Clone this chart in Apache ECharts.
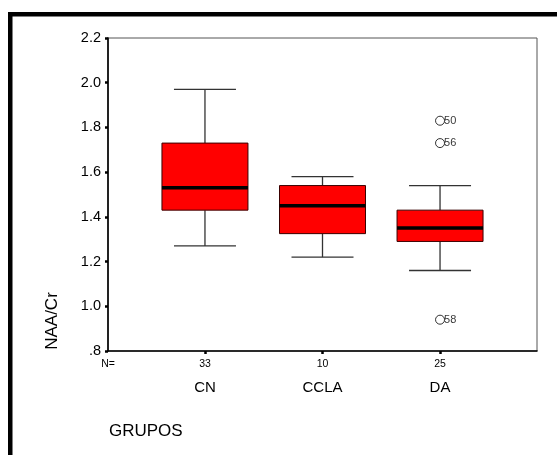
<!DOCTYPE html>
<html>
<head>
<meta charset="utf-8">
<script src="https://cdn.jsdelivr.net/npm/echarts@6/dist/echarts.min.js"></script>
<style>
  html, body { margin: 0; padding: 0; background: #fff; }
  #chart { width: 557px; height: 455px; }
</style>
</head>
<body>
<div id="chart"></div>
<script>
// NAA/Cr ratio by group: box summaries
const groups = ['CN', 'CCLA', 'DA'];
const groupN = [33, 10, 25];
const whiskerLow = [1.27, 1.22, 1.16];
const quartile1 = [1.43, 1.325, 1.29];
const medians = [1.53, 1.45, 1.35];
const quartile3 = [1.73, 1.54, 1.43];
const whiskerHigh = [1.97, 1.58, 1.54];

// Outlying cases (group index, value, case number)
const outlierGroup = [2, 2, 2];
const outlierValue = [1.83, 1.73, 0.94];
const outlierCase = ['50', '56', '58'];

const yTicks = { min: 0.8, max: 2.2, step: 0.2 };

const FONT = '"Liberation Sans", Arial, sans-serif';

const boxData = groups.map((g, k) => [k + 1, whiskerLow[k], quartile1[k], medians[k], quartile3[k], whiskerHigh[k]]);
const outlierData = outlierGroup.map((g, k) => ({ value: [g + 1, outlierValue[k]], name: outlierCase[k] }));
const groupPos = groups.map((g, k) => k + 1);
const xMin = 0.175, xMax = 3.825;

function renderBox(params, api) {
  const pos = api.value(0);
  const cx = api.coord([pos, api.value(3)])[0];
  const yLow = api.coord([pos, api.value(1)])[1];
  const yQ1 = api.coord([pos, api.value(2)])[1];
  const yMed = api.coord([pos, api.value(3)])[1];
  const yQ3 = api.coord([pos, api.value(4)])[1];
  const yHigh = api.coord([pos, api.value(5)])[1];
  const boxHalf = 43;
  const capHalf = 31;
  const whiskerStyle = { stroke: '#333', lineWidth: 1.3 };
  return {
    type: 'group',
    children: [
      { type: 'line', shape: { x1: cx, y1: yQ3, x2: cx, y2: yHigh }, style: whiskerStyle },
      { type: 'line', shape: { x1: cx, y1: yQ1, x2: cx, y2: yLow }, style: whiskerStyle },
      { type: 'line', shape: { x1: cx - capHalf, y1: yHigh, x2: cx + capHalf, y2: yHigh }, style: whiskerStyle },
      { type: 'line', shape: { x1: cx - capHalf, y1: yLow, x2: cx + capHalf, y2: yLow }, style: whiskerStyle },
      { type: 'rect', shape: { x: cx - boxHalf, y: yQ3, width: boxHalf * 2, height: yQ1 - yQ3 },
        style: { fill: '#ff0000', stroke: '#3a0000', lineWidth: 1 } },
      { type: 'line', shape: { x1: cx - boxHalf, y1: yMed, x2: cx + boxHalf, y2: yMed },
        style: { stroke: '#000', lineWidth: 3.5 } }
    ]
  };
}

const chart = echarts.init(document.getElementById('chart'), null, { renderer: 'canvas' });
chart.setOption({
  animation: false,
  backgroundColor: '#fff',
  grid: { left: 108, right: 20, top: 38, bottom: 104, show: true, borderColor: '#555', borderWidth: 1 },
  xAxis: [
    {
      type: 'value', min: xMin, max: xMax, position: 'bottom',
      axisLine: { show: true, lineStyle: { color: '#000', width: 1.6 } },
      axisTick: { show: true, customValues: groupPos, length: 3, inside: false, lineStyle: { color: '#000', width: 2.5 } },
      axisLabel: {
        show: true, customValues: [xMin].concat(groupPos), margin: 8,
        fontFamily: FONT, fontSize: 10.5, color: '#000',
        formatter: v => (Math.abs(v - xMin) < 1e-6 ? 'N=' : String(groupN[Math.round(v) - 1]))
      },
      splitLine: { show: false }
    },
    {
      type: 'value', min: xMin, max: xMax, position: 'bottom', gridIndex: 0,
      axisLine: { show: false }, axisTick: { show: false }, splitLine: { show: false },
      axisLabel: {
        show: true, customValues: groupPos, margin: 29,
        fontFamily: FONT, fontSize: 15, color: '#000',
        formatter: v => groups[Math.round(v) - 1]
      }
    }
  ],
  yAxis: {
    type: 'value', min: yTicks.min, max: yTicks.max, interval: yTicks.step,
    axisLine: { show: true, lineStyle: { color: '#000', width: 1.6 } },
    axisTick: { show: true, length: 3, lineStyle: { color: '#000', width: 2.5 } },
    axisLabel: {
      margin: 7, fontFamily: FONT, fontSize: 14.5, color: '#000',
      formatter: v => (v < 1 ? '.' + Math.round(v * 10) : v.toFixed(1))
    },
    splitLine: { show: false }
  },
  series: [
    {
      type: 'custom', xAxisIndex: 0, yAxisIndex: 0,
      renderItem: renderBox,
      encode: { x: 0, y: [1, 2, 3, 4, 5] },
      data: boxData,
      z: 2
    },
    {
      type: 'scatter', xAxisIndex: 0, yAxisIndex: 0,
      symbol: 'circle', symbolSize: 9,
      itemStyle: { color: '#fff', borderColor: '#000', borderWidth: 1 },
      label: {
        show: true, position: 'right', distance: -1,
        fontFamily: FONT, fontSize: 11, color: '#000',
        formatter: p => p.name
      },
      data: outlierData,
      z: 3
    }
  ],
  graphic: [
    { type: 'rect', shape: { x: 8, y: 12, width: 549, height: 4.5 }, style: { fill: '#000' } },
    { type: 'rect', shape: { x: 8, y: 12, width: 4.5, height: 443 }, style: { fill: '#000' } },
    {
      type: 'text', x: 52, y: 321, rotation: Math.PI / 2,
      style: { text: 'NAA/Cr', font: '17px ' + FONT, fill: '#000', textAlign: 'center', textVerticalAlign: 'middle' }
    },
    {
      type: 'text', x: 109, y: 431,
      style: { text: 'GRUPOS', font: '17px ' + FONT, fill: '#000', textAlign: 'left', textVerticalAlign: 'middle' }
    }
  ]
});
</script>
</body>
</html>
